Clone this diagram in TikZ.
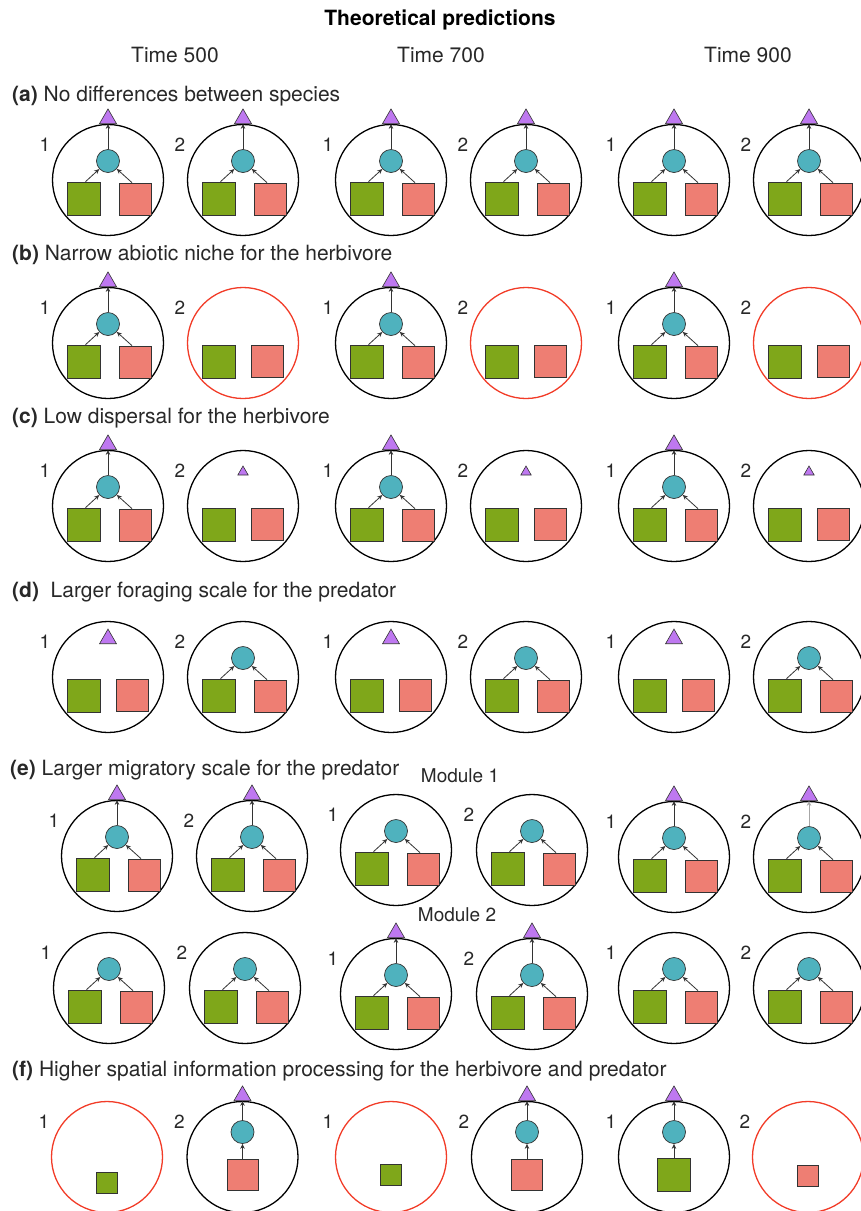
\documentclass[tikz,border=0pt]{standalone}
\usepackage{fontspec}
\setmainfont{TeX Gyre Heros}
\usetikzlibrary{positioning,calc,arrows.meta,shapes.geometric}

\definecolor{leaf}{RGB}{127,167,26}
\definecolor{salmon}{RGB}{238,126,115}
\definecolor{herbblue}{RGB}{79,178,190}
\definecolor{lilac}{RGB}{190,120,240}
\definecolor{gone}{RGB}{242,60,40}
\definecolor{ink}{RGB}{40,40,40}

\tikzset{
	patch/.style={circle, draw=black, line width=1.3pt, minimum size=111pt, inner sep=0pt},
	lost/.style={circle, draw=gone, line width=1.3pt, minimum size=111pt, inner sep=0pt},
	plantA/.style={rectangle, draw=black!80, fill=leaf, line width=0.7pt, minimum size=33pt, inner sep=0pt},
	plantB/.style={rectangle, draw=black!80, fill=salmon, line width=0.7pt, minimum size=32pt, inner sep=0pt},
	sprout/.style={rectangle, draw=black!80, line width=0.7pt, minimum size=21pt, inner sep=0pt},
	herb/.style={circle, draw=black!80, fill=herbblue, line width=0.7pt, minimum size=23pt, inner sep=0pt},
	pred/.style={regular polygon, regular polygon sides=3, draw=black!80, fill=lilac, line width=0.6pt, minimum size=19.5pt, inner sep=0pt},
	link/.style={-{Stealth[length=5pt,width=4.5pt]}, line width=0.8pt, draw=black!80},
	num/.style={text=ink, font=\fontsize{19}{21}\selectfont},
	lbl/.style={text=ink, font=\fontsize{21}{25}\selectfont, anchor=west, inner sep=0pt},
	time/.style={text=ink, font=\fontsize{21}{25}\selectfont},
	mod/.style={text=ink, font=\fontsize{19}{23}\selectfont},
}

% one habitat circle with its number
\newcommand{\habitat}[5]{%
	\coordinate (#1) at (#2,#3);
	\node[#4] (#1c) at (#1) {};
	\node[num] (#1n) at ($(#1)+(-63,-35)$) {#5};
}
\newcommand{\plants}[1]{%
	\node[plantA] (#1g) at ($(#1)+(-24,18.5)$) {};
	\node[plantB] (#1r) at ($(#1)+(27.5,19)$) {};
}
\newcommand{\loneplants}[1]{%
	\node[plantA] (#1g) at ($(#1)+(-24,18.5)$) {};
	\node[plantB] (#1r) at ($(#1)+(24.5,18.5)$) {};
}
\newcommand{\herbivore}[1]{%
	\node[herb] (#1h) at ($(#1)+(0,-19)$) {};
	\draw[link] ([xshift=1.5pt]#1g.north) -- (#1h);
	\draw[link] ([xshift=-3.5pt]#1r.north) -- (#1h);
}
\newcommand{\hunter}[1]{%
	\node[pred, anchor=south] (#1p) at (#1c.north) {};
	\draw[link] (#1h) -- (#1p.south);
}
\newcommand{\foodweb}[4]{\habitat{#1}{#2}{#3}{patch}{#4}\plants{#1}\herbivore{#1}\hunter{#1}}
% a single plant under herbivore and predator
\newcommand{\chain}[2]{%
	\node[#2] (#1s) at ($(#1)+(0,18)$) {};
	\node[herb] (#1h) at ($(#1)+(0,-25)$) {};
	\draw[link] (#1s) -- (#1h);
	\hunter{#1}
}

\begin{document}
\begin{tikzpicture}[x=1pt,y=-1pt]
	\fill[white] (0,0) rectangle (861,1211);
	\useasboundingbox (0,0) rectangle (861,1211);
	
	\node[font=\bfseries\fontsize{21}{25}\selectfont] (title) at (440,20) {Theoretical predictions};
	\node[time] (t500) at (175,55) {Time 500};
	\node[time] (t700) at (441,55) {Time 700};
	\node[time] (t900) at (748,55) {Time 900};
	
	% (a)
	\node[lbl] (la) at (12,96) {\textbf{(a)} No differences between species};
	\foreach \n/\x/\k in {1/108/1,2/243/2,3/391/1,4/526/2,5/674/1,6/809/2}
		\foodweb{a\n}{\x}{180}{\k};
	
	% (b)
	\node[lbl] (lb) at (12,255) {\textbf{(b)} Narrow abiotic niche for the herbivore};
	\foreach \n/\x in {1/108,3/391,5/674}
		\foodweb{b\n}{\x}{343}{1};
	\foreach \n/\x in {2/243,4/526,6/809}
		{\habitat{b\n}{\x}{343}{lost}{2}\loneplants{b\n}}
	
	% (c)
	\node[lbl] (lc) at (12,418) {\textbf{(c)} Low dispersal for the herbivore};
	\foreach \n/\x in {1/108,3/391,5/674}
		\foodweb{c\n}{\x}{506}{1};
	\foreach \n/\x in {2/243,4/526,6/809}
		{\habitat{c\n}{\x}{506}{patch}{2}\loneplants{c\n}
		\node[pred, minimum size=12pt] (c\n p) at ($(c\n)+(0,-34)$) {};}
	
	% (d)
	\node[lbl] (ld) at (12,592) {\textbf{(d)}\ \ Larger foraging scale for the predator};
	\foreach \n/\x in {1/108,3/391,5/674}
		{\habitat{d\n}{\x}{677}{patch}{1}\loneplants{d\n}
		\node[pred, anchor=south] (d\n p) at ($(d\n)+(0,-33)$) {};}
	\foreach \n/\x in {2/243,4/526,6/809}
		{\habitat{d\n}{\x}{677}{patch}{2}\plants{d\n}\herbivore{d\n}}
	
	% (e)
	\node[lbl] (le) at (10,770) {\textbf{(e)} Larger migratory scale for the predator};
	\node[mod] (m1) at (460,776) {Module 1};
	\node[mod] (m2) at (457,915) {Module 2};
	\foodweb{e1}{117}{856}{1}
	\foodweb{e2}{252}{856}{2}
	\habitat{e3}{396}{850}{patch}{1}\plants{e3}\herbivore{e3}
	\habitat{e4}{532}{850}{patch}{2}\plants{e4}\herbivore{e4}
	\foodweb{e5}{674}{857}{1}
	\habitat{e6}{809}{857}{patch}{2}\plants{e6}\herbivore{e6}
	\node[pred, anchor=south] (e6p) at (e6c.north) {};
	\draw[link, draw=black!35] (e6h) -- (e6p.south);
	
	\habitat{g1}{109}{988}{patch}{1}\plants{g1}\herbivore{g1}
	\habitat{g2}{245}{988}{patch}{2}\plants{g2}\herbivore{g2}
	\foodweb{g3}{396}{994}{1}
	\foodweb{g4}{532}{994}{2}
	\habitat{g5}{674}{988}{patch}{1}\plants{g5}\herbivore{g5}
	\habitat{g6}{809}{988}{patch}{2}\plants{g6}\herbivore{g6}
	
	% (f)
	\node[lbl] (lf) at (12,1071) {\textbf{(f)} Higher spatial information processing for the herbivore and predator};
	\habitat{f1}{107}{1157}{lost}{1}
	\node[sprout, fill=leaf] (f1s) at ($(f1)+(0,26)$) {};
	\habitat{f2}{242.5}{1157}{patch}{2}\chain{f2}{plantB, minimum size=31pt}
	\habitat{f3}{391}{1157}{lost}{1}
	\node[sprout, fill=leaf] (f3s) at ($(f3)+(0,18)$) {};
	\habitat{f4}{527}{1157}{patch}{2}\chain{f4}{plantB, minimum size=31pt}
	\habitat{f5}{674}{1157}{patch}{1}\chain{f5}{plantA}
	\habitat{f6}{808}{1157}{lost}{2}
	\node[sprout, fill=salmon] (f6s) at ($(f6)+(0,19)$) {};
\end{tikzpicture}
\end{document}
